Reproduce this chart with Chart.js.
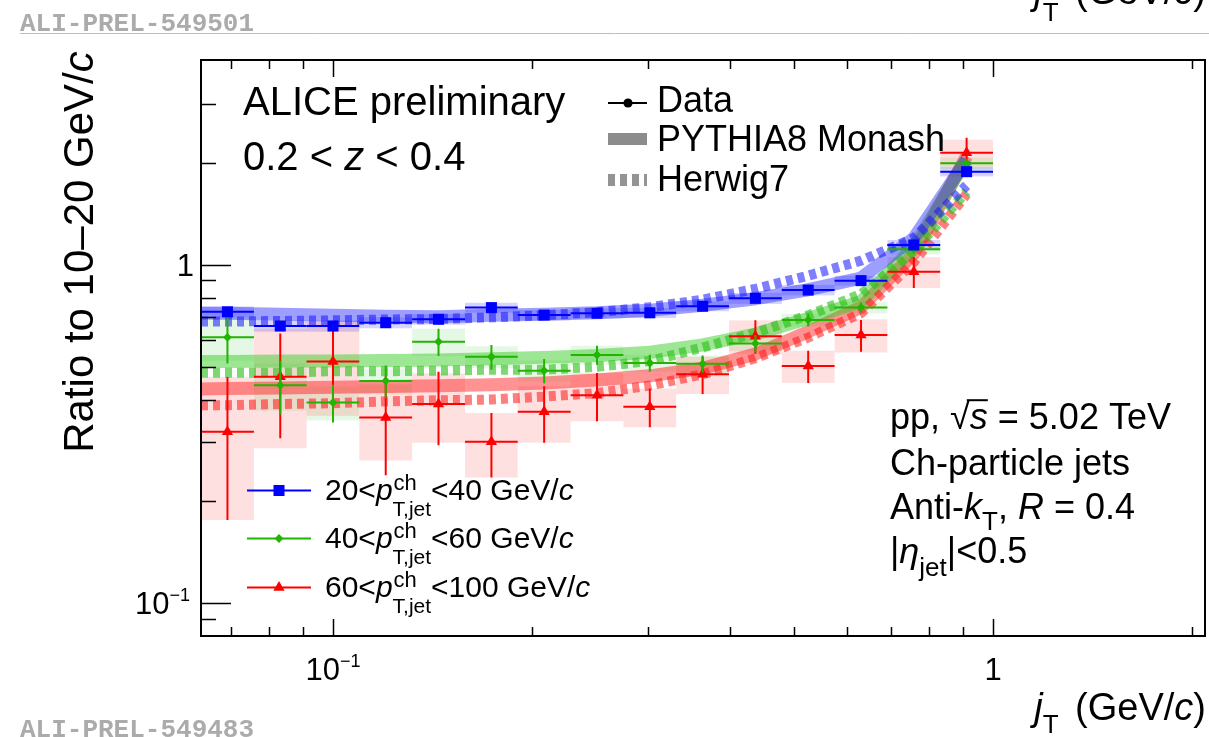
<!DOCTYPE html>
<html><head><meta charset="utf-8">
<script src="https://cdn.jsdelivr.net/npm/chart.js@4.4.0/dist/chart.umd.min.js"></script>
<style>html,body{margin:0;padding:0;background:#fff;overflow:hidden}canvas{display:block}</style>
</head><body>
<canvas id="c" width="1209" height="737"></canvas>
<script>
// ---- data ----
const jTEdges = [0.0631, 0.0759, 0.0912, 0.1096, 0.1318, 0.1585, 0.1905, 0.2291, 0.2754, 0.3311, 0.3981, 0.4786, 0.5754, 0.6918, 0.8318, 1.0];
const jT      = [0.0692, 0.0832, 0.1000, 0.1202, 0.1445, 0.1738, 0.2089, 0.2512, 0.3020, 0.3631, 0.4365, 0.5248, 0.6310, 0.7586, 0.9120];

const blueY    = [0.727, 0.660, 0.660, 0.675, 0.691, 0.748, 0.711, 0.720, 0.722, 0.755, 0.797, 0.843, 0.899, 1.146, 1.888];
const blueStat = [0.020, 0.015, 0.015, 0.012, 0.012, 0.012, 0.012, 0.012, 0.012, 0.012, 0.012, 0.015, 0.015, 0.020, 0.040];
const blueSys  = [0.027, 0.025, 0.025, 0.025, 0.025, 0.025, 0.025, 0.025, 0.025, 0.025, 0.030, 0.030, 0.030, 0.040, 0.060];

const greenY    = [0.611, 0.441, 0.392, 0.454, 0.593, 0.535, 0.487, 0.542, 0.513, 0.510, 0.586, 0.688, 0.749, 1.113, 2.000];
const greenStat = [0.100, 0.080, 0.050, 0.050, 0.055, 0.045, 0.040, 0.035, 0.030, 0.030, 0.035, 0.030, 0.025, 0.030, 0.060];
const greenSys  = [0.090, 0.070, 0.045, 0.040, 0.055, 0.040, 0.035, 0.035, 0.030, 0.030, 0.030, 0.030, 0.030, 0.040, 0.080];

const redY    = [0.321, 0.467, 0.518, 0.354, 0.388, 0.300, 0.368, 0.412, 0.381, 0.475, 0.616, 0.503, 0.621, 0.955, 2.148];
const redStat = [0.145, 0.160, 0.160, 0.115, 0.095, 0.065, 0.070, 0.067, 0.050, 0.060, 0.070, 0.055, 0.067, 0.100, 0.230];
const redSys  = [0.145, 0.180, 0.160, 0.090, 0.090, 0.065, 0.070, 0.067, 0.050, 0.060, 0.070, 0.055, 0.070, 0.100, 0.200];

// model curves (first point at the left frame edge, then bin centres)
const modelX      = [0.0631, 0.0692, 0.0832, 0.1000, 0.1202, 0.1445, 0.1738, 0.2089, 0.2512, 0.3020, 0.3631, 0.4365, 0.5248, 0.6310, 0.7586, 0.9120];
const bluePythia  = [0.720, 0.720, 0.715, 0.710, 0.705, 0.703, 0.710, 0.715, 0.722, 0.735, 0.760, 0.795, 0.845, 0.915, 1.200, 2.050];
const blueHerwig  = [0.680, 0.680, 0.683, 0.686, 0.690, 0.692, 0.700, 0.710, 0.725, 0.750, 0.790, 0.850, 0.930, 1.030, 1.200, 1.720];
const greenPythia = [0.518, 0.518, 0.520, 0.520, 0.522, 0.524, 0.528, 0.533, 0.540, 0.552, 0.580, 0.625, 0.695, 0.780, 1.130, 2.050];
const greenHerwig = [0.480, 0.480, 0.480, 0.485, 0.485, 0.487, 0.490, 0.490, 0.500, 0.520, 0.570, 0.630, 0.710, 0.820, 1.100, 1.650];
const redPythia   = [0.430, 0.431, 0.433, 0.435, 0.437, 0.439, 0.442, 0.448, 0.457, 0.470, 0.495, 0.545, 0.635, 0.750, 1.080, 2.100];
const redHerwig   = [0.385, 0.385, 0.388, 0.390, 0.395, 0.398, 0.400, 0.408, 0.418, 0.440, 0.475, 0.530, 0.610, 0.720, 1.020, 1.620];

const legendLabels = ['20', '40', '60'];
const legendHigh   = ['40', '60', '100'];

const xMin = 0.0631, xMax = 2.095, yMin = 0.0799, yMax = 4.04;

// ---- styles ----
const series = [
  {y: blueY,  stat: blueStat,  sys: blueSys,  color: '#0000ff', box: 'rgba(40,40,255,0.20)', style: 'rect',     r: 7.8},
  {y: greenY, stat: greenStat, sys: greenSys, color: '#22b400', box: 'rgba(0,190,0,0.10)',   style: 'rectRot',  r: 4.4},
  {y: redY,   stat: redStat,   sys: redSys,   color: '#ff0000', box: 'rgba(255,0,0,0.12)',   style: 'triangle', r: 6.5}
];

const pts = (xs, ys) => xs.map((x, i) => ({x: x, y: ys[i]}));
const model = (ys, color, dashed) => ({
  data: pts(modelX, ys), showLine: true, pointRadius: 0, borderColor: color,
  borderWidth: dashed ? 10 : 13, borderDash: dashed ? [7, 5] : [], borderCapStyle: 'butt',
  borderJoinStyle: 'round', tension: 0, fill: false
});
const dataSet = (s) => ({
  data: pts(jT, s.y), showLine: false, pointStyle: s.style, pointRadius: s.r,
  backgroundColor: s.color, borderColor: s.color, borderWidth: 0
});

const FONT = '"Liberation Sans", Arial, Helvetica, sans-serif';
const F = (s, it) => (it ? 'italic ' : '') + s + 'px ' + FONT;

function partW(ctx, p) {
  if (p.sup || p.sub) {
    let w = 0;
    for (const q of [p.sup, p.sub]) if (q) { ctx.font = F(q.s, q.it); w = Math.max(w, ctx.measureText(q.t).width + (q.dx || 0)); }
    return w + (p.pad || 0);
  }
  ctx.font = F(p.s, p.it);
  return ctx.measureText(p.t).width + (p.pad || 0);
}
function rich(ctx, x, y, parts, align) {
  let tot = 0;
  const ws = parts.map(p => { const w = partW(ctx, p); tot += w; return w; });
  let cx = align === 'center' ? x - tot / 2 : align === 'right' ? x - tot : x;
  ctx.textAlign = 'left'; ctx.textBaseline = 'alphabetic';
  parts.forEach((p, i) => {
    const items = (p.sup || p.sub) ? [p.sup, p.sub].filter(Boolean) : [p];
    for (const q of items) { ctx.font = F(q.s, q.it); ctx.fillText(q.t, cx + (q.dx || 0), y + (q.dy || 0)); }
    if (p.over) {
      ctx.beginPath(); ctx.lineWidth = 2;
      ctx.moveTo(cx - 3, y - p.s * 0.80); ctx.lineTo(cx + ws[i], y - p.s * 0.80); ctx.stroke();
    }
    cx += ws[i];
  });
}
function marker(ctx, style, x, y, r, color) {
  ctx.fillStyle = color; ctx.beginPath();
  if (style === 'rect') { const h = r * Math.SQRT1_2; ctx.rect(x - h, y - h, 2 * h, 2 * h); }
  else if (style === 'rectRot') { ctx.moveTo(x, y - r); ctx.lineTo(x + r, y); ctx.lineTo(x, y + r); ctx.lineTo(x - r, y); }
  else if (style === 'triangle') {
    for (let k = 0; k < 3; k++) { const a = k * 2 * Math.PI / 3; const px = x + Math.sin(a) * r, py = y - Math.cos(a) * r; k ? ctx.lineTo(px, py) : ctx.moveTo(px, py); }
  } else { ctx.arc(x, y, r, 0, 2 * Math.PI); }
  ctx.closePath(); ctx.fill();
}

const alicePlugin = {
  id: 'alice',
  beforeDatasetsDraw(chart) {
    const {ctx, chartArea: a, scales: {x: xs, y: ys}} = chart;
    ctx.save(); ctx.beginPath(); ctx.rect(a.left, a.top, a.right - a.left, a.bottom - a.top); ctx.clip();
    for (const s of series) {
      ctx.fillStyle = s.box;
      for (let k = 0; k < jT.length; k++) {
        const xl = xs.getPixelForValue(jTEdges[k]), xr = xs.getPixelForValue(jTEdges[k + 1]);
        const yt = ys.getPixelForValue(s.y[k] + s.sys[k]), yb = ys.getPixelForValue(s.y[k] - s.sys[k]);
        ctx.fillRect(xl, yt, xr - xl, yb - yt);
      }
    }
    ctx.restore();
  },
  beforeDatasetDraw(chart, args) {
    if (args.index > 2) return;
    const s = series[args.index];
    const {ctx, chartArea: a, scales: {x: xs, y: ys}} = chart;
    ctx.save(); ctx.beginPath(); ctx.rect(a.left, a.top, a.right - a.left, a.bottom - a.top); ctx.clip();
    ctx.strokeStyle = s.color; ctx.lineWidth = 2;
    for (let k = 0; k < jT.length; k++) {
      const xl = xs.getPixelForValue(jTEdges[k]), xr = xs.getPixelForValue(jTEdges[k + 1]);
      const xc = xs.getPixelForValue(jT[k]), yc = ys.getPixelForValue(s.y[k]);
      const yh = ys.getPixelForValue(s.y[k] + s.stat[k]), yl = ys.getPixelForValue(s.y[k] - s.stat[k]);
      ctx.beginPath(); ctx.moveTo(xl, yc); ctx.lineTo(xr, yc); ctx.moveTo(xc, yh); ctx.lineTo(xc, yl); ctx.stroke();
    }
    ctx.restore();
  },
  afterDraw(chart) {
    const {ctx, chartArea: a, scales: {x: xs, y: ys}} = chart;
    ctx.save();
    // frame
    ctx.strokeStyle = '#000'; ctx.lineWidth = 2;
    ctx.strokeRect(a.left, a.top, a.right - a.left, a.bottom - a.top);
    // x ticks
    ctx.lineWidth = 1.5;
    for (let d = -2; d <= 0; d++) for (let m = 1; m <= 9; m++) {
      const v = m * Math.pow(10, d);
      if (v < xMin * 1.001 || v > xMax) continue;
      const px = Math.round(xs.getPixelForValue(v)) + 0.5, L = m === 1 ? 17 : 9;
      ctx.beginPath(); ctx.moveTo(px, a.bottom); ctx.lineTo(px, a.bottom - L);
      ctx.moveTo(px, a.top); ctx.lineTo(px, a.top + L); ctx.stroke();
    }
    // y ticks (left only)
    for (let d = -2; d <= 0; d++) for (let m = 1; m <= 9; m++) {
      const v = m * Math.pow(10, d);
      if (v < yMin * 1.01 || v > yMax * 0.99) continue;
      const py = Math.round(ys.getPixelForValue(v)) + 0.5, L = m === 1 ? 30 : 15;
      ctx.beginPath(); ctx.moveTo(a.left, py); ctx.lineTo(a.left + L, py); ctx.stroke();
    }
    ctx.fillStyle = '#000'; ctx.strokeStyle = '#000';
    // tick labels
    const p1x = xs.getPixelForValue(0.1), p10x = xs.getPixelForValue(1);
    rich(ctx, p1x, 680, [{t: '10', s: 31}, {t: '\u22121', s: 18, dy: -13}], 'center');
    rich(ctx, p10x, 680, [{t: '1', s: 31}], 'center');
    rich(ctx, 194, ys.getPixelForValue(1) + 11, [{t: '1', s: 31}], 'right');
    rich(ctx, 190, ys.getPixelForValue(0.1) + 11, [{t: '10', s: 31}, {t: '\u22121', s: 18, dy: -13}], 'right');
    // axis titles
    rich(ctx, 1206, 720, [{t: 'j', s: 38, it: 1}, {t: 'T', s: 26, dy: 13, pad: 6}, {t: ' (GeV/', s: 38}, {t: 'c', s: 38, it: 1}, {t: ')', s: 38}], 'right');
    rich(ctx, 1206, 4, [{t: 'j', s: 38, it: 1}, {t: 'T', s: 26, dy: 17, pad: 6}, {t: ' (GeV/', s: 38}, {t: 'c', s: 38, it: 1}, {t: ')', s: 38}], 'right');
    ctx.save(); ctx.translate(93, 252); ctx.rotate(-Math.PI / 2);
    rich(ctx, 0, 0, [{t: 'Ratio to 10\u201320 GeV/', s: 42}, {t: 'c', s: 42, it: 1}], 'center');
    ctx.restore();
    // header texts
    rich(ctx, 243, 115, [{t: 'ALICE preliminary', s: 40}]);
    rich(ctx, 243, 170, [{t: '0.2 < ', s: 40}, {t: 'z', s: 40, it: 1}, {t: ' < 0.4', s: 40}]);
    // model legend
    ctx.lineWidth = 2; ctx.strokeStyle = '#000';
    ctx.beginPath(); ctx.moveTo(608, 103); ctx.lineTo(647, 103); ctx.stroke();
    marker(ctx, 'circle', 628, 103, 4.6, '#000');
    ctx.fillStyle = 'rgba(128,128,128,0.9)'; ctx.fillRect(608, 133, 39, 12);
    ctx.strokeStyle = 'rgba(128,128,128,0.85)'; ctx.lineWidth = 12; ctx.setLineDash([7, 5]);
    ctx.beginPath(); ctx.moveTo(608, 180); ctx.lineTo(647, 180); ctx.stroke(); ctx.setLineDash([]);
    ctx.fillStyle = '#000'; ctx.strokeStyle = '#000';
    rich(ctx, 657, 112, [{t: 'Data', s: 36}]);
    rich(ctx, 657, 151, [{t: 'PYTHIA8 Monash', s: 36}]);
    rich(ctx, 657, 191, [{t: 'Herwig7', s: 36}]);
    // pt legend
    const base = [500, 548, 597];
    series.forEach((s, i) => {
      const yl = base[i] - 9.5;
      ctx.strokeStyle = s.color; ctx.lineWidth = 2;
      ctx.beginPath(); ctx.moveTo(247, yl); ctx.lineTo(311, yl); ctx.stroke();
      marker(ctx, s.style, 279, yl, s.r, s.color);
      ctx.fillStyle = '#000';
      rich(ctx, 325, base[i], [
        {t: legendLabels[i] + '<', s: 30}, {t: 'p', s: 30, it: 1},
        {sup: {t: 'ch', s: 22, dy: -10, dx: 1}, sub: {t: 'T,jet', s: 21, dy: 16}, pad: 0},
        {t: '<' + legendHigh[i] + ' GeV/', s: 30}, {t: 'c', s: 30, it: 1}
      ]);
    });
    // right texts
    ctx.fillStyle = '#000'; ctx.strokeStyle = '#000';
    rich(ctx, 890, 429, [{t: 'pp, ', s: 36}, {t: '\u221A', s: 36}, {t: 's', s: 36, it: 1, over: 1}, {t: ' = 5.02 TeV', s: 36}]);
    rich(ctx, 890, 475, [{t: 'Ch-particle jets', s: 36}]);
    rich(ctx, 890, 519, [{t: 'Anti-', s: 36}, {t: 'k', s: 36, it: 1}, {t: 'T', s: 26, dy: 11}, {t: ', ', s: 36}, {t: 'R', s: 36, it: 1}, {t: ' = 0.4', s: 36}]);
    rich(ctx, 890, 563, [{t: '|', s: 36}, {t: '\u03B7', s: 36, it: 1}, {t: 'jet', s: 26, dy: 13}, {t: '|<0.5', s: 36}]);
    // ALICE figure ids
    ctx.font = 'bold 26px "Liberation Mono", "DejaVu Sans Mono", monospace';
    ctx.fillStyle = '#ababab'; ctx.textAlign = 'left';
    ctx.fillText('ALI-PREL-549501', 20, 31);
    ctx.fillText('ALI-PREL-549483', 20, 737);
    ctx.strokeStyle = '#bdbdbd'; ctx.lineWidth = 1;
    ctx.beginPath(); ctx.moveTo(20, 33.5); ctx.lineTo(1209, 33.5); ctx.stroke();
    ctx.restore();
  }
};

new Chart(document.getElementById('c'), {
  type: 'scatter',
  data: {
    datasets: [
      dataSet(series[0]), dataSet(series[1]), dataSet(series[2]),
      model(blueHerwig, 'rgba(20,20,255,0.55)', true),
      model(greenHerwig, 'rgba(40,190,20,0.6)', true),
      model(redHerwig, 'rgba(255,20,20,0.55)', true),
      model(bluePythia, 'rgba(40,40,255,0.45)', false),
      model(greenPythia, 'rgba(60,205,40,0.5)', false),
      model(redPythia, 'rgba(255,40,40,0.5)', false)
    ]
  },
  options: {
    responsive: false, devicePixelRatio: 1, animation: false,
    layout: {autoPadding: false, padding: {left: 201, top: 60, right: 4, bottom: 101}},
    plugins: {legend: {display: false}, tooltip: {enabled: false}},
    scales: {
      x: {type: 'logarithmic', min: xMin, max: xMax, display: false},
      y: {type: 'logarithmic', min: yMin, max: yMax, display: false}
    }
  },
  plugins: [alicePlugin]
});
</script>
</body></html>
